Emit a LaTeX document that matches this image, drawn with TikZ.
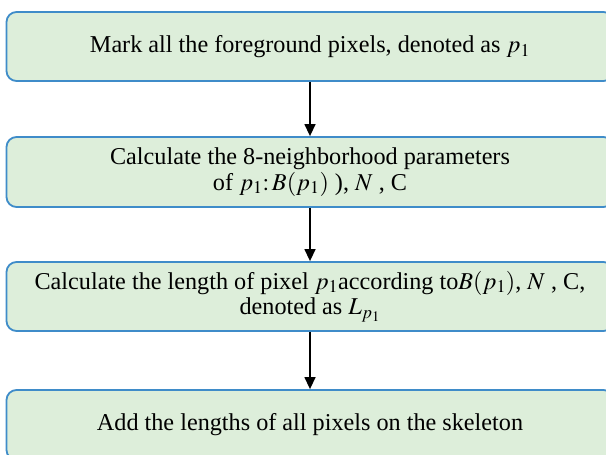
\documentclass[tikz,border=0pt]{standalone}
\usepackage{mathptmx}
\usepackage{fontspec}
\setmainfont{Liberation Serif}
\usetikzlibrary{arrows.meta}
\definecolor{boxblue}{HTML}{3F8CC9}
\definecolor{boxgreen}{HTML}{DDEEDA}
\begin{document}
\begin{tikzpicture}[x=1pt,y=-1pt,
  stepbox/.style={draw=boxblue, line width=1.8pt, fill=boxgreen, rounded corners=10pt,
    minimum width=607pt, align=center, font=\fontsize{24.2}{25.5}\selectfont, inner sep=0pt},
  flow/.style={-{Triangle[length=12pt,width=11pt]}, line width=1.4pt}]
\useasboundingbox (0,0) rectangle (606,455);
\clip (0,0) rectangle (606,455);
\node[stepbox, minimum height=69pt] (b1) at (310,46.5) {Mark all the foreground pixels, denoted as $p_1$};
\node[stepbox, minimum height=70pt] (b2) at (310,172) {Calculate the 8-neighborhood parameters\\ of $p_1{:}\,B(p_1)$ ), $N$ , C};
\node[stepbox, minimum height=69pt] (b3) at (310,296.5) {Calculate the length of pixel $p_1$according to$B(p_1)$, $N$ , C,\\ denoted as $L_{p_1}$};
\node[stepbox, minimum height=70pt] (b4) at (310,425) {Add the lengths of all pixels on the skeleton};
\draw[flow] (b1.south) -- (b2.north);
\draw[flow] (b2.south) -- (b3.north);
\draw[flow] (b3.south) -- (b4.north);
\end{tikzpicture}
\end{document}
